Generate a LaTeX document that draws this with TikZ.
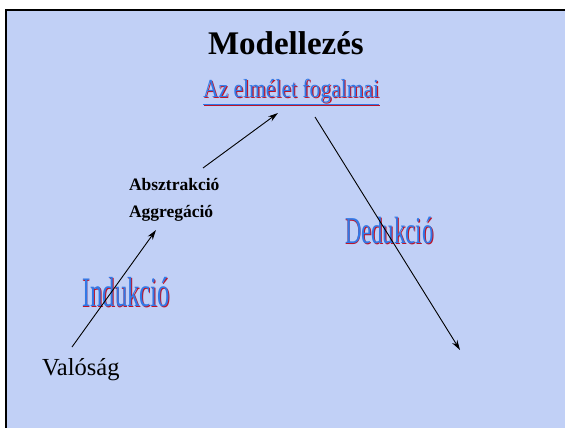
\documentclass[tikz,border=0pt]{standalone}
\usepackage{fontspec}
\setmainfont{Liberation Serif}
\usetikzlibrary{arrows.meta}
\definecolor{bgblue}{RGB}{193,208,246}
\definecolor{wablue}{RGB}{50,120,230}
\definecolor{wared}{RGB}{190,20,40}
\newcommand{\wordart}[1]{\makebox[0pt][l]{\hspace{1.4pt}\raisebox{-1.4pt}{\color{wared}#1}}{\color{wablue}#1}}
\tikzset{
  lbl/.style={anchor=base west, inner sep=0pt, outer sep=0pt},
  conn/.style={draw=black, line width=0.9pt, -{Stealth[length=10pt,width=6pt]}}
}
\begin{document}
\begin{tikzpicture}[x=1pt,y=-1pt]
\useasboundingbox (0,0) rectangle (565,428);
\fill[white] (-5,-5) rectangle (575,438);
\fill[bgblue] (6,10) rectangle (575,438);
\draw[black, line width=2pt] (6,440) -- (6,10) -- (575,10);

\node[lbl, font=\fontsize{33}{36}\selectfont\bfseries] (title) at (208,55) {Modellezés};
\node[lbl] (fog) at (203,97) {\scalebox{0.83}[1.0]{\fontsize{26}{28}\selectfont\wordart{\underline{Az elmélet fogalmai}}}};
\node[lbl, font=\fontsize{17.5}{20}\selectfont\bfseries] (abs) at (129,190) {Absztrakció};
\node[lbl, font=\fontsize{17.5}{20}\selectfont\bfseries] (agg) at (129,217) {Aggregáció};
\node[lbl] (ind) at (82,306) {\scalebox{0.59}[1.0]{\fontsize{42}{44}\selectfont\wordart{Indukció}}};
\node[lbl] (ded) at (345,243) {\scalebox{0.6}[1.0]{\fontsize{38}{40}\selectfont\wordart{Dedukció}}};
\node[lbl, font=\fontsize{24.5}{26}\selectfont] (val) at (42,375) {Valóság};

\coordinate (a1s) at (203,168);
\coordinate (a1e) at (278,113);
\coordinate (a2s) at (72,347);
\coordinate (a2e) at (156,230);
\coordinate (a3s) at (315,117);
\coordinate (a3e) at (460,350);
\draw[conn] (a1s) -- (a1e);
\draw[conn] (a2s) -- (a2e);
\draw[conn] (a3s) -- (a3e);
\end{tikzpicture}
\end{document}
